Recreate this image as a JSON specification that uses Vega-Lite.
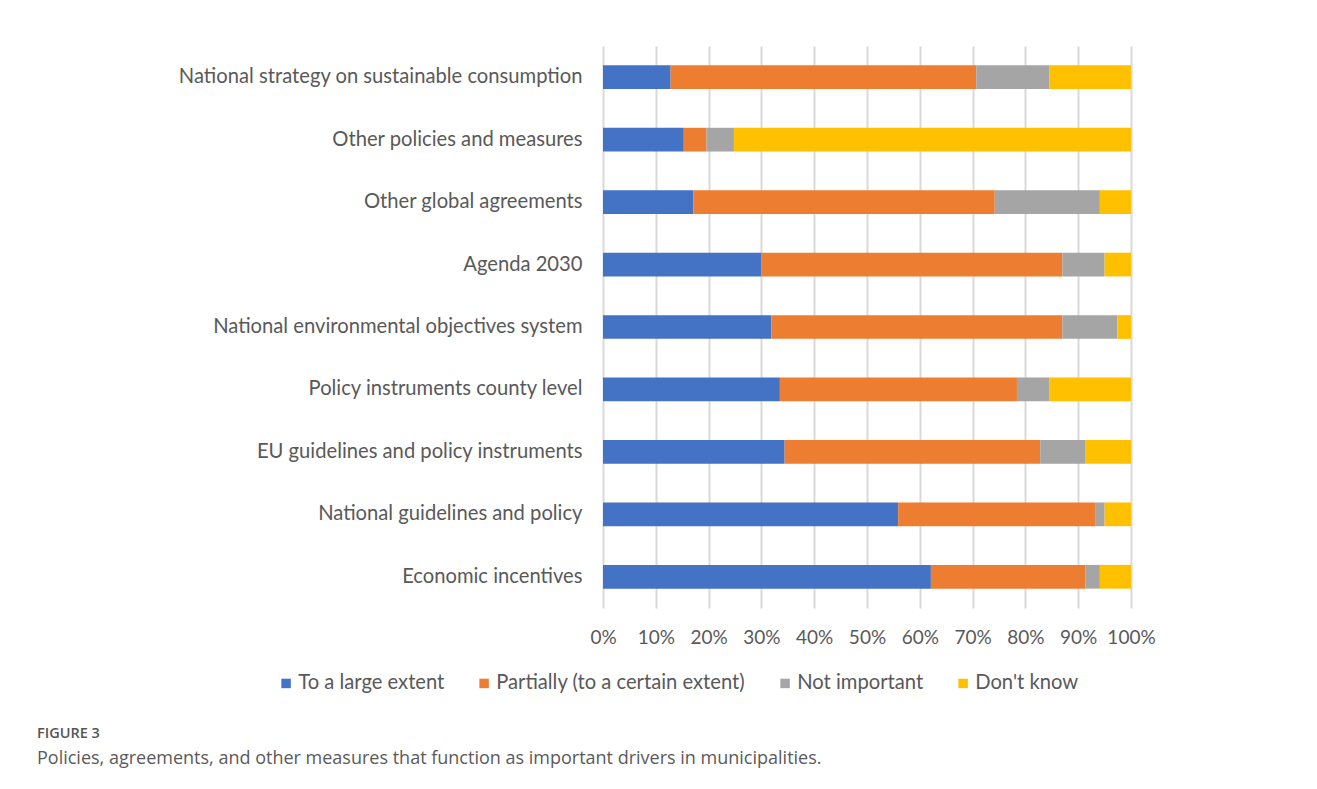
{
  "$schema": "https://vega.github.io/schema/vega-lite/v6.json",
  "width": 528,
  "height": 562,
  "autosize": {"type": "none"},
  "padding": {"left": 603, "top": 46, "right": 186, "bottom": 181},
  "background": "white",
  "data": {
    "values": [
      {"item": "National strategy on sustainable consumption", "response": "To a large extent", "k": 1, "value": 12.8},
      {"item": "National strategy on sustainable consumption", "response": "Partially (to a certain extent)", "k": 2, "value": 57.9},
      {"item": "National strategy on sustainable consumption", "response": "Not important", "k": 3, "value": 13.8},
      {"item": "National strategy on sustainable consumption", "response": "Don't know", "k": 4, "value": 15.5},
      {"item": "Other policies and measures", "response": "To a large extent", "k": 1, "value": 15.3},
      {"item": "Other policies and measures", "response": "Partially (to a certain extent)", "k": 2, "value": 4.3},
      {"item": "Other policies and measures", "response": "Not important", "k": 3, "value": 5.2},
      {"item": "Other policies and measures", "response": "Don't know", "k": 4, "value": 75.2},
      {"item": "Other global agreements ", "response": "To a large extent", "k": 1, "value": 17.1},
      {"item": "Other global agreements ", "response": "Partially (to a certain extent)", "k": 2, "value": 57.1},
      {"item": "Other global agreements ", "response": "Not important", "k": 3, "value": 19.9},
      {"item": "Other global agreements ", "response": "Don't know", "k": 4, "value": 5.9},
      {"item": "Agenda 2030", "response": "To a large extent", "k": 1, "value": 30.0},
      {"item": "Agenda 2030", "response": "Partially (to a certain extent)", "k": 2, "value": 57.0},
      {"item": "Agenda 2030", "response": "Not important", "k": 3, "value": 8.0},
      {"item": "Agenda 2030", "response": "Don't know", "k": 4, "value": 5.0},
      {"item": "National environmental objectives system", "response": "To a large extent", "k": 1, "value": 31.9},
      {"item": "National environmental objectives system", "response": "Partially (to a certain extent)", "k": 2, "value": 55.1},
      {"item": "National environmental objectives system", "response": "Not important", "k": 3, "value": 10.4},
      {"item": "National environmental objectives system", "response": "Don't know", "k": 4, "value": 2.6},
      {"item": "Policy instruments county level", "response": "To a large extent", "k": 1, "value": 33.5},
      {"item": "Policy instruments county level", "response": "Partially (to a certain extent)", "k": 2, "value": 44.9},
      {"item": "Policy instruments county level", "response": "Not important", "k": 3, "value": 6.1},
      {"item": "Policy instruments county level", "response": "Don't know", "k": 4, "value": 15.5},
      {"item": "EU guidelines and policy instruments", "response": "To a large extent", "k": 1, "value": 34.4},
      {"item": "EU guidelines and policy instruments", "response": "Partially (to a certain extent)", "k": 2, "value": 48.4},
      {"item": "EU guidelines and policy instruments", "response": "Not important", "k": 3, "value": 8.5},
      {"item": "EU guidelines and policy instruments", "response": "Don't know", "k": 4, "value": 8.7},
      {"item": "National guidelines and policy ", "response": "To a large extent", "k": 1, "value": 55.9},
      {"item": "National guidelines and policy ", "response": "Partially (to a certain extent)", "k": 2, "value": 37.3},
      {"item": "National guidelines and policy ", "response": "Not important", "k": 3, "value": 1.8},
      {"item": "National guidelines and policy ", "response": "Don't know", "k": 4, "value": 5.0},
      {"item": "Economic incentives", "response": "To a large extent", "k": 1, "value": 62.1},
      {"item": "Economic incentives", "response": "Partially (to a certain extent)", "k": 2, "value": 29.3},
      {"item": "Economic incentives", "response": "Not important", "k": 3, "value": 2.7},
      {"item": "Economic incentives", "response": "Don't know", "k": 4, "value": 5.9}
    ]
  },
  "title": {
    "text": "FIGURE 3",
    "subtitle": "Policies, agreements, and other measures that function as important drivers in municipalities.",
    "orient": "bottom",
    "anchor": "start",
    "frame": "group",
    "dx": -566,
    "offset": 33,
    "font": "Open Sans",
    "fontSize": 14.5,
    "fontWeight": 600,
    "color": "#555555",
    "subtitleFont": "Open Sans",
    "subtitleFontSize": 18,
    "subtitleColor": "#5a5a5a",
    "subtitlePadding": 8
  },
  "mark": {"type": "bar"},
  "encoding": {
    "y": {
      "field": "item",
      "type": "nominal",
      "sort": [
        "National strategy on sustainable consumption",
        "Other policies and measures",
        "Other global agreements ",
        "Agenda 2030",
        "National environmental objectives system",
        "Policy instruments county level",
        "EU guidelines and policy instruments",
        "National guidelines and policy ",
        "Economic incentives"
      ],
      "scale": {"paddingInner": 0.62, "paddingOuter": 0.31},
      "axis": {
        "title": null,
        "ticks": false,
        "domain": false,
        "grid": false,
        "labelFont": "Lato",
        "labelFontSize": 20.2,
        "labelColor": "#595959",
        "labelPadding": 21,
        "labelLimit": 600
      }
    },
    "x": {
      "field": "value",
      "type": "quantitative",
      "stack": "normalize",
      "scale": {"domain": [0, 1], "nice": false},
      "axis": {
        "title": null,
        "format": ".0%",
        "values": [0, 0.1, 0.2, 0.3, 0.4, 0.5, 0.6, 0.7, 0.8, 0.9, 1],
        "ticks": false,
        "domain": false,
        "grid": true,
        "gridColor": "#d9d9d9",
        "gridWidth": 2,
        "labelFont": "Lato",
        "labelFontSize": 19,
        "labelColor": "#595959",
        "labelPadding": 20,
        "labelFlush": false
      }
    },
    "color": {
      "field": "response",
      "type": "nominal",
      "scale": {
        "domain": ["To a large extent", "Partially (to a certain extent)", "Not important", "Don't know"],
        "range": ["#4472C4", "#ED7D31", "#A5A5A5", "#FFC000"]
      },
      "legend": {
        "title": null,
        "orient": "none",
        "direction": "horizontal",
        "legendX": -327,
        "legendY": 627,
        "symbolType": "square",
        "symbolSize": 90,
        "symbolStrokeWidth": 0,
        "labelFont": "Lato",
        "labelFontSize": 20.2,
        "labelColor": "#595959",
        "labelOffset": 2,
        "columnPadding": 29,
        "labelLimit": 400
      }
    },
    "order": {"field": "k", "type": "quantitative"}
  },
  "config": {
    "view": {"stroke": null}
  }
}
